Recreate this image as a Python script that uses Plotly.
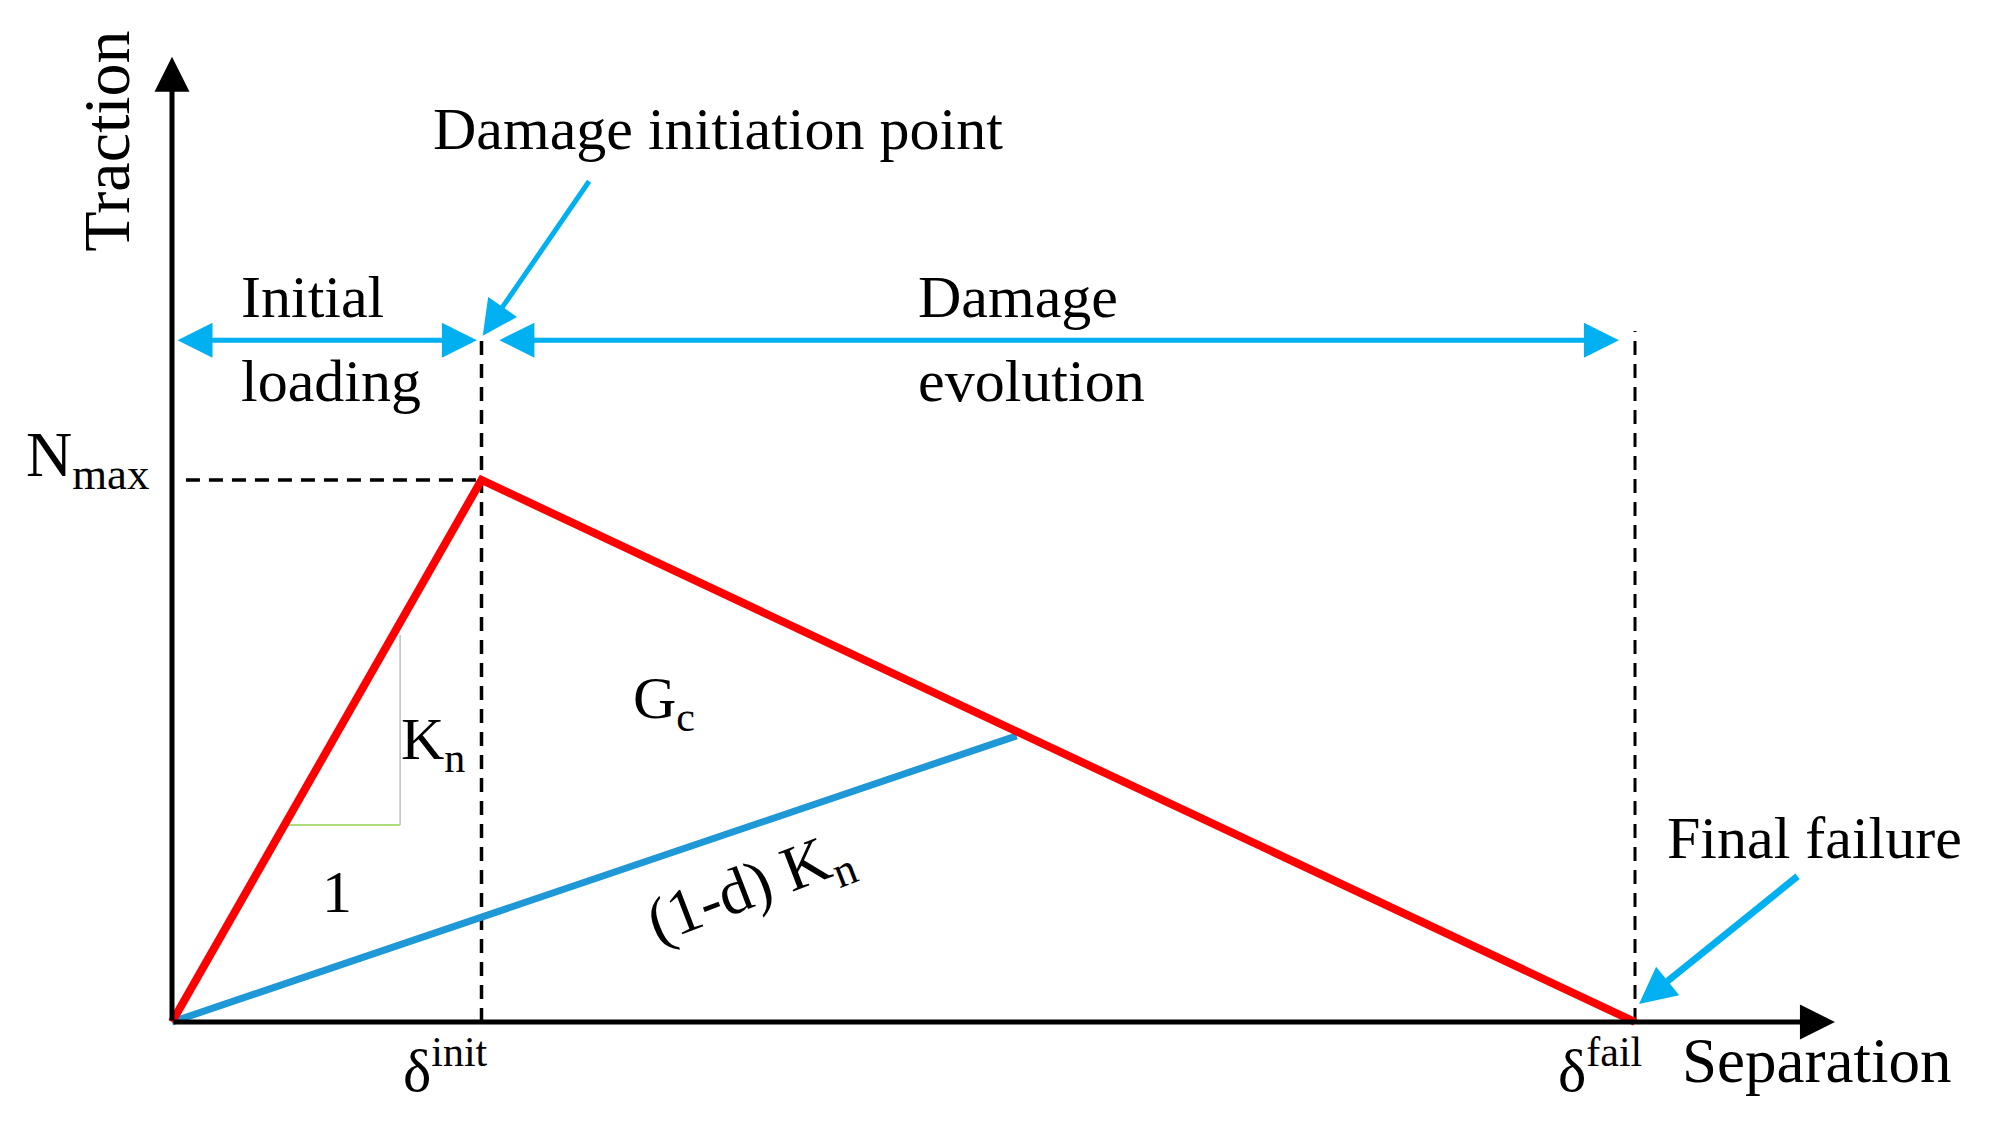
import plotly.graph_objects as go

# ---- schematic values (normalised units: delta_init = 1, N_max = 1) ----
delta_init = 1.0
delta_fail = 4.727
n_max = 1.0
separation_red = [0.0, delta_init, delta_fail]
traction_red = [0.0, n_max, 0.0]
separation_blue = [0.0, 2.729]          # (1-d)Kn unloading path
traction_blue = [0.0, 0.528]
slope_tri_x = [0.365, 0.737]            # stiffness triangle
slope_tri_y = [0.3635, 0.714]

FONT = "Liberation Serif"
FS = 60
RED = "#FF0000"
BLUE = "#1E98D6"
CYAN = "#00B0F0"
DASH = "14px,9px"

fig = go.Figure()

# dashed guide lines
fig.add_trace(go.Scatter(x=[delta_init, delta_init], y=[0, 1.262], mode="lines",
                         line=dict(color="black", width=3.5, dash=DASH), hoverinfo="skip"))
fig.add_trace(go.Scatter(x=[delta_fail, delta_fail], y=[0, 1.275], mode="lines",
                         line=dict(color="black", width=3, dash=DASH), hoverinfo="skip"))
fig.add_trace(go.Scatter(x=[0.045, delta_init], y=[n_max, n_max], mode="lines",
                         line=dict(color="black", width=3.5, dash=DASH), hoverinfo="skip"))

# slope triangle
fig.add_trace(go.Scatter(x=[slope_tri_x[0], slope_tri_x[1]], y=[slope_tri_y[0], slope_tri_y[0]], mode="lines",
                         line=dict(color="#92D050", width=1.5), hoverinfo="skip"))
fig.add_trace(go.Scatter(x=[slope_tri_x[1], slope_tri_x[1]], y=[slope_tri_y[0], slope_tri_y[1]], mode="lines",
                         line=dict(color="#BFBFBF", width=1.5), hoverinfo="skip"))

# traction-separation law
fig.add_trace(go.Scatter(x=separation_blue, y=traction_blue, mode="lines",
                         line=dict(color=BLUE, width=7), hoverinfo="skip"))
fig.add_trace(go.Scatter(x=separation_red, y=traction_red, mode="lines",
                         line=dict(color=RED, width=8), hoverinfo="skip"))

ann = []

def arrow(x0, y0, x1, y1, color, width, size, both=False):
    d = dict(x=x1, y=y1, ax=x0, ay=y0, xref="x", yref="y", axref="x", ayref="y",
             text="", showarrow=True, arrowhead=2, arrowsize=size, arrowwidth=width,
             arrowcolor=color, standoff=0, startstandoff=0)
    if both:
        d.update(arrowside="end+start", startarrowhead=2, startarrowsize=size)
    ann.append(d)

# axes
arrow(0, 0, 0, 1.781, "black", 5, 1.4)
arrow(0, 0, 5.373, 0, "black", 5, 1.4)
# region arrows
arrow(0.013, 1.258, 0.985, 1.258, CYAN, 5, 1.4, both=True)
arrow(1.053, 1.258, 4.675, 1.258, CYAN, 5, 1.4, both=True)
# pointers
arrow(1.351, 1.554, 1.004, 1.266, CYAN, 5, 1.4)
arrow(5.257, 0.271, 4.74, 0.033, CYAN, 7, 1.05)

def label(text, x, y, xanchor="center", yanchor="middle", angle=0, size=FS):
    ann.append(dict(x=x, y=y, xref="x", yref="y", text=text, showarrow=False,
                    xanchor=xanchor, yanchor=yanchor, textangle=angle,
                    font=dict(family=FONT, size=size, color="black")))

label("Traction", -0.212, 1.625, angle=-90, size=66)
label("Damage initiation point", 1.764, 1.648)
label("Initial", 0.215, 1.338, xanchor="left")
label("loading", 0.215, 1.183, xanchor="left")
label("Damage", 2.404, 1.338, xanchor="left")
label("evolution", 2.404, 1.183, xanchor="left")
label("N<sub>max</sub>", -0.068, 1.039, xanchor="right", size=64)
label("G<sub>c</sub>", 1.590, 0.590)
label("K<sub>n</sub>", 0.843, 0.513)
label("1", 0.533, 0.239)
label("(1-d) K<sub>n</sub>", 1.868, 0.2435, angle=-21, size=64)
label("δ<sup>init</sup>", 0.885, -0.0812)
label("δ<sup>fail</sup>", 4.614, -0.0812)
label("Separation", 4.872, -0.0712, xanchor="left", size=63)
label("Final failure", 4.824, 0.3387, xanchor="left")

# page body keeps an 8px margin, so the figure is 16px smaller than the window
fig.update_layout(
    width=1995, height=1126,
    margin=dict(l=0, r=0, t=0, b=0),
    paper_bgcolor="white", plot_bgcolor="white",
    showlegend=False,
    xaxis=dict(range=[-0.52989, 5.91599], visible=False, fixedrange=True),
    yaxis=dict(range=[-0.20664, 1.87085], visible=False, fixedrange=True),
    annotations=ann,
)

fig.write_html("out.html")
